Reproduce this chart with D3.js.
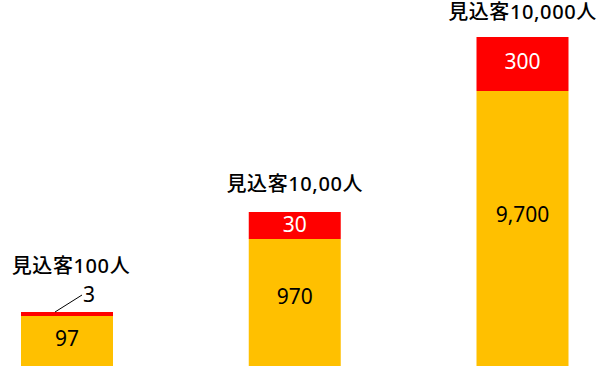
<!DOCTYPE html>
<html><head><meta charset="utf-8">
<script src="https://cdn.jsdelivr.net/npm/d3@7/dist/d3.min.js"></script>
<style>html,body{margin:0;padding:0;background:#fff;}svg{display:block;}</style>
</head><body>
<svg id="c" width="600" height="366"></svg>
<script>
const categories = ["見込客100人", "見込客10,00人", "見込客10,000人"];
const baseValues = [97, 970, 9700];
const topValues = [3, 30, 300];
const baseLabels = ["97", "970", "9,700"];
const topLabels = ["3", "30", "300"];

const svg = d3.select("#c");
const font = "'Noto Sans','Noto Sans CJK JP',sans-serif";

// illustrative (non-proportional) vertical scale, piecewise
const y = d3.scaleLinear()
  .domain([0, 97, 100, 970, 1000, 9700, 10000])
  .range([366, 316, 312, 239, 212, 91, 37]);
const x = d3.scalePoint().domain(categories).range([67, 522.5]);
const bw = 92;

const data = categories.map((c, i) => ({
  c, base: baseValues[i], top: topValues[i], bl: baseLabels[i], tl: topLabels[i]
}));

const g = svg.append("g");
data.forEach((d, i) => {
  const cx = x(d.c);
  const y0 = y(0), y1 = y(d.base), y2 = y(d.base + d.top);
  g.append("rect").attr("x", cx - bw/2).attr("y", y1).attr("width", bw).attr("height", y0 - y1).attr("fill", "#FFC000");
  g.append("rect").attr("x", cx - bw/2).attr("y", y2).attr("width", bw).attr("height", y1 - y2).attr("fill", "#FF0000");
  g.append("text").attr("x", cx).attr("y", y1 + 0.45*(y0 - y1)).attr("dy", "0.36em")
    .attr("text-anchor", "middle").attr("font-family", font).attr("font-size", 21).attr("fill", "#000").text(d.bl);
  let titleY = y2 - 21;
  let tx = cx;
  if (y1 - y2 < 15) {
    g.append("line").attr("x1", cx - 12).attr("y1", y2).attr("x2", cx + 15).attr("y2", y2 - 17)
      .attr("stroke", "#000").attr("stroke-width", 1);
    g.append("text").attr("x", cx + 22).attr("y", y2 - 10)
      .attr("text-anchor", "middle").attr("font-family", font).attr("font-size", 21).attr("fill", "#000").text(d.tl);
    titleY -= 18;
    tx = cx + 4;
  } else {
    g.append("text").attr("x", cx).attr("y", y2 + 0.45*(y1 - y2)).attr("dy", "0.36em")
      .attr("text-anchor", "middle").attr("font-family", font).attr("font-size", 21).attr("fill", "#fff").text(d.tl);
  }
  g.append("text").attr("x", tx).attr("y", Math.max(titleY, 19))
    .attr("text-anchor", "middle").attr("font-family", font).attr("font-size", 20)
    .attr("font-weight", 500).attr("letter-spacing", 0.6).attr("fill", "#000").text(d.c);
});
</script>
</body></html>
